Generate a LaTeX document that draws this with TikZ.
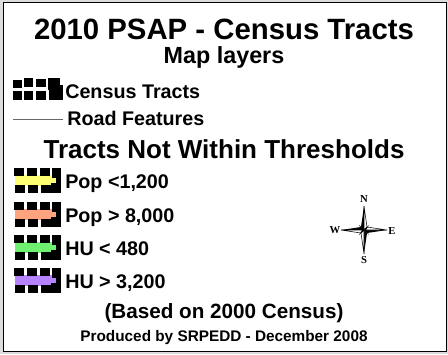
\documentclass[tikz,border=0pt]{standalone}
\usepackage{fontspec}
\setmainfont{Liberation Sans}
\newfontfamily\cmpfont{Liberation Serif}
\definecolor{bggray}{HTML}{DCDCDC}
\definecolor{cyel}{HTML}{FFFF73}
\definecolor{corg}{HTML}{FFA47F}
\definecolor{cgrn}{HTML}{70F070}
\definecolor{cpur}{HTML}{B583FF}
\newcommand\legicon[2]{%
  \fill[#2] (15,#1-6) rectangle (58,#1+5);
  \foreach \xx in {14,27,40}{%
    \fill (\xx,#1-13) rectangle (\xx+10,#1-5);
    \fill (\xx+1,#1+4) rectangle (\xx+11,#1+12);}
  \fill (52,#1-13) rectangle (61,#1-3);
  \fill (51,#1+2) rectangle (61,#1+12);
  \fill (56,#1-4) rectangle (61,#1+3);
}
\begin{document}
\begin{tikzpicture}[x=0.75pt,y=-0.75pt,
  ttl/.style={font=\bfseries\fontsize{22}{25}\selectfont, inner sep=0pt, anchor=base},
  hdr/.style={font=\bfseries\fontsize{17.5}{20}\selectfont, inner sep=0pt, anchor=base},
  lbl/.style={font=\bfseries\fontsize{14.8}{17}\selectfont, inner sep=0pt, anchor=base west},
  cmp/.style={font=\cmpfont\bfseries\fontsize{8}{9}\selectfont, inner sep=0pt}]
\useasboundingbox (0,0) rectangle (448,354);
\fill[bggray] (0,0) rectangle (448,354);
\draw[line width=1.1pt, fill=white] (3.5,2.5) rectangle (446.5,351.5);
% titles
\node[ttl] (title) at (224,39) {2010 PSAP - Census Tracts};
\node[hdr] (maplayers) at (224,63) {Map layers};
% census tracts icon
\fill (13,80) rectangle (22,88);
\fill (24,78) rectangle (33,87);
\fill (36,79) rectangle (46,87);
\fill (48,78) rectangle (60,85);
\fill (48,78) rectangle (53,90);
\fill (53,85) rectangle (63,92);
\fill (13,91) rectangle (22,100);
\fill (24,91) rectangle (33,100);
\fill (36,91) rectangle (46,100);
\fill (49,90) rectangle (63,100);
\node[lbl] (census) at (65,98) {Census Tracts};
% road
\coordinate (r1) at (13,119);
\coordinate (r2) at (63,119);
\draw[black!60, line width=0.5pt] (r1) -- (r2);
\node[lbl] (road) at (67,125) {Road Features};
% thresholds
\node[hdr, font=\bfseries\fontsize{19.5}{22}\selectfont] (tracts) at (224,158) {Tracts Not Within Thresholds};
\legicon{181}{cyel}
\node[lbl] (pop1) at (65,188) {Pop <1,200};
\legicon{215}{corg}
\node[lbl] (pop2) at (65,222) {Pop > 8,000};
\legicon{248}{cgrn}
\node[lbl] (hu1) at (65,255) {HU < 480};
\legicon{281}{cpur}
\node[lbl] (hu2) at (65,288) {HU > 3,200};
% compass
\coordinate (c) at (364,230);
\fill (364,206) -- (361,227) -- (364,230) -- cycle;
\draw[line width=0.4pt, fill=white] (364,206) -- (367,227) -- (364,230) -- cycle;
\fill (364,254) -- (367,233) -- (364,230) -- cycle;
\draw[line width=0.4pt, fill=white] (364,254) -- (361,233) -- (364,230) -- cycle;
\fill (341,230) -- (361,227) -- (364,230) -- cycle;
\draw[line width=0.4pt, fill=white] (341,230) -- (361,233) -- (364,230) -- cycle;
\fill (387,230) -- (367,233) -- (364,230) -- cycle;
\draw[line width=0.4pt, fill=white] (387,230) -- (367,227) -- (364,230) -- cycle;
\fill (364,230) -- (369,225) -- (366,230) -- (369,235) -- (364,230) -- (359,235) -- (362,230) -- (359,225) -- cycle;
\node[cmp] (N) at (364,199) {N};
\node[cmp] (S) at (364,260) {S};
\node[cmp] (W) at (335,230) {W};
\node[cmp] (E) at (392,231) {E};
% bottom
\node[hdr, font=\bfseries\fontsize{15.5}{18}\selectfont] (based) at (224,318) {(Based on 2000 Census)};
\node[hdr, font=\bfseries\fontsize{11.5}{14}\selectfont] (produced) at (224,341) {Produced by SRPEDD - December 2008};
\end{tikzpicture}
\end{document}
